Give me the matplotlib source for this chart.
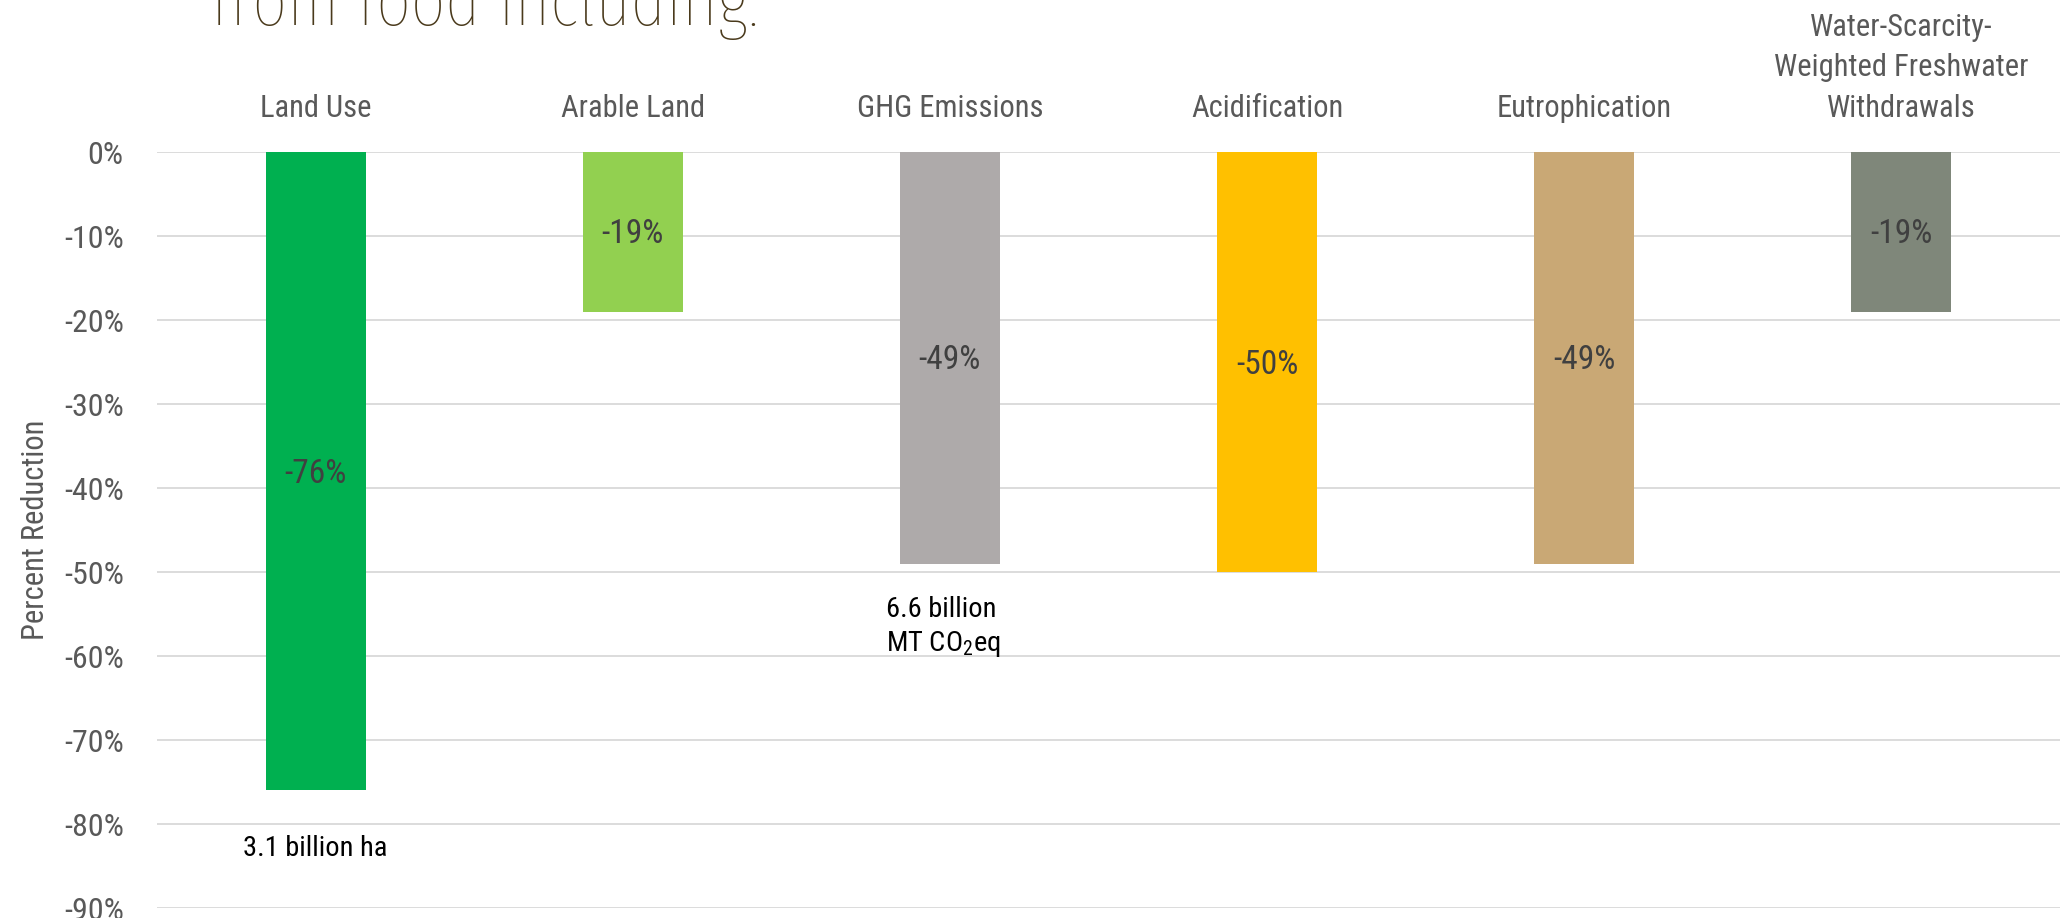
import matplotlib as mpl
import matplotlib.pyplot as plt

# data
categories = ['Land Use', 'Arable Land', 'GHG Emissions', 'Acidification',
              'Eutrophication', 'Water-Scarcity-\nWeighted Freshwater\nWithdrawals']
values = [-76, -19, -49, -50, -49, -19]
colors = ['#00B050', '#92D050', '#AEAAAA', '#FFC000', '#C9A875', '#7F877A']
value_labels = ['-76%', '-19%', '-49%', '-50%', '-49%', '-19%']
y_ticks = [0, -10, -20, -30, -40, -50, -60, -70, -80, -90]
y_ticklabels = ['0%', '-10%', '-20%', '-30%', '-40%', '-50%', '-60%', '-70%', '-80%', '-90%']

mpl.rcParams['font.family'] = ['Roboto Condensed', 'DejaVu Sans']
mpl.rcParams['mathtext.fontset'] = 'custom'
mpl.rcParams['mathtext.rm'] = 'Roboto Condensed'

dpi = 100
fig = plt.figure(dpi=dpi, figsize=(2068 / dpi, 918 / dpi))
ax = fig.add_axes([157 / 2068, 10 / 918, (2060 - 157) / 2068, (908 - 152) / 918])

xs = list(range(len(categories)))
ax.bar(xs, values, width=0.315, color=colors, zorder=2)

for x, v, lab in zip(xs, values, value_labels):
    ax.text(x, v / 2 - 0.3, lab, ha='center', va='center', fontsize=24, color='#404040')

ax.set_xlim(-0.5, len(categories) - 0.5)
ax.set_ylim(-90, 0)
ax.set_yticks(y_ticks)
ax.set_yticklabels(y_ticklabels)
ax.grid(axis='y', color='#D9D9D9', linewidth=1.3, zorder=0)

ax.xaxis.tick_top()
ax.set_xticks(xs)
ax.set_xticklabels(categories, fontsize=22, color='#595959', linespacing=1.5)
ax.tick_params(axis='x', length=0, pad=21)
ax.tick_params(axis='y', length=0, pad=24, labelsize=23, labelcolor='#595959')
for s in ax.spines.values():
    s.set_visible(False)

ax.set_ylabel('Percent Reduction', fontsize=22, color='#595959')
ax.yaxis.set_label_coords(-0.056, 0.5)

# annotations
ax.text(0, -82.9, '3.1 billion ha', ha='center', va='center', fontsize=20.5, color='black')
ax.text(1.80, -56.6, '6.6 billion\nMT CO$_\\mathrm{2}$eq', ha='left', va='center', fontsize=20.5,
        color='black', linespacing=1.3)

# title, cut off at the top edge
fig.text(211 / 2068, 1 - 25 / 918, 'from food including:', fontsize=54, color='#4A3A1C',
         ha='left', va='baseline', family=['Fira Sans Extra Condensed', 'DejaVu Sans'],
         fontweight='light')

fig.savefig('out.png')
